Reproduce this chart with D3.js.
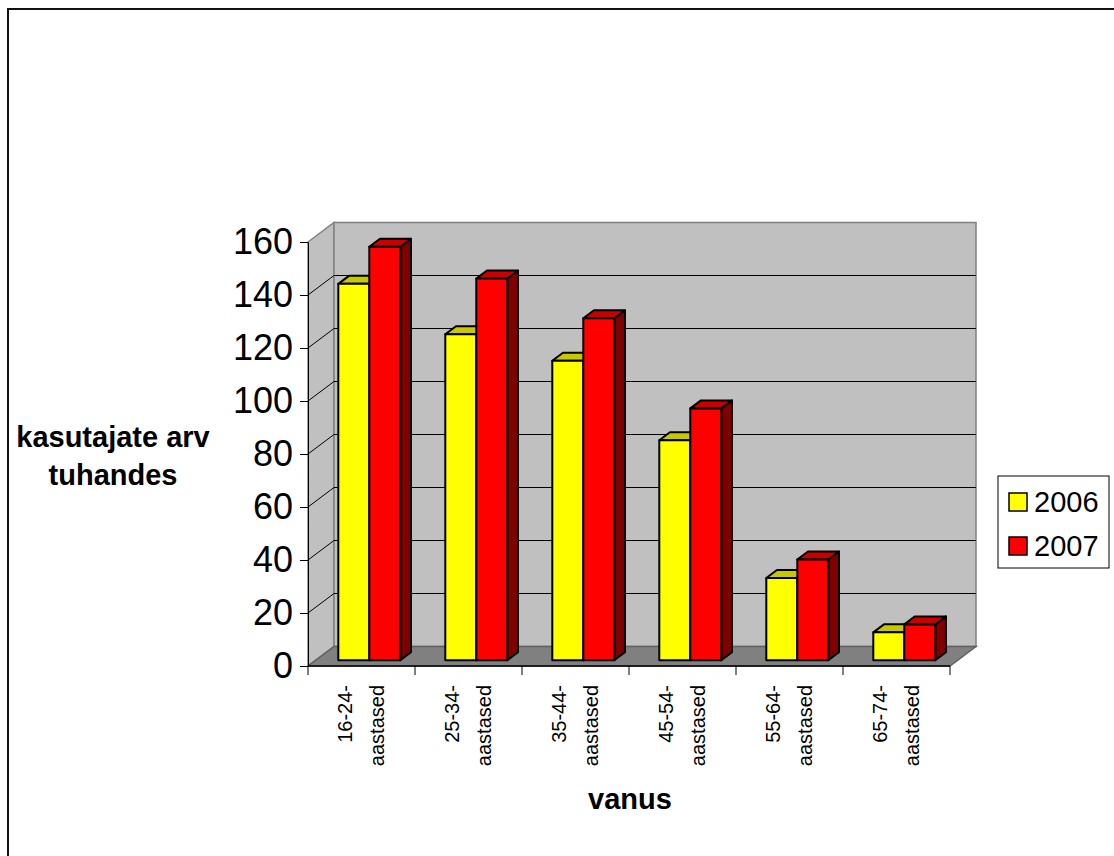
<!DOCTYPE html>
<html>
<head>
<meta charset="utf-8">
<script src="https://cdn.jsdelivr.net/npm/d3@7"></script>
<style>
  html, body { margin: 0; padding: 0; background: #fff; }
  svg { display: block; font-family: "Liberation Sans", Arial, sans-serif; }
</style>
</head>
<body>
<svg id="chart" width="1114" height="856"></svg>
<script>
// Internet users by age group, thousands
const categories = ["16-24-aastased", "25-34-aastased", "35-44-aastased", "45-54-aastased", "55-64-aastased", "65-74-aastased"];
const categoryLines = [["16-24-", "aastased"], ["25-34-", "aastased"], ["35-44-", "aastased"], ["45-54-", "aastased"], ["55-64-", "aastased"], ["65-74-", "aastased"]];
const seriesNames = ["2006", "2007"];
const values2006 = [142, 123, 113, 83, 31, 10.5];
const values2007 = [156, 144, 129, 95, 38, 13.5];
const yTicks = [0, 20, 40, 60, 80, 100, 120, 140, 160];

const series = [
  { name: seriesNames[0], values: values2006, front: "#FFFF00", top: "#C8C800", side: "#808000" },
  { name: seriesNames[1], values: values2007, front: "#FF0000", top: "#C80000", side: "#800000" }
];

const svg = d3.select("#chart");

// outer chart frame
svg.append("rect")
  .attr("x", 8).attr("y", 9).attr("width", 1200).attr("height", 1000)
  .attr("fill", "none").attr("stroke", "#111").attr("stroke-width", 2);

// front plane scales and depth offset for the 3-D box
const y = d3.scaleLinear().domain([0, 160]).range([666, 242]);
const x = d3.scaleBand().domain(categories).range([308, 950]);
const depth = { dx: 26, dy: -19.5 };
const barFront = 0.3, barBack = 0.71;
const barW = 31;

const x0 = x.range()[0], x1 = x.range()[1];
const yTop = y(160), yBot = y(0);
const pts = a => a.map(p => p.join(",")).join(" ");

// left wall
svg.append("polygon")
  .attr("points", pts([[x0, yTop], [x0 + depth.dx, yTop + depth.dy], [x0 + depth.dx, yBot + depth.dy], [x0, yBot]]))
  .attr("fill", "#C0C0C0").attr("stroke", "#808080").attr("stroke-width", 1.5);
// back wall
svg.append("polygon")
  .attr("points", pts([[x0 + depth.dx, yTop + depth.dy], [x1 + depth.dx, yTop + depth.dy], [x1 + depth.dx, yBot + depth.dy], [x0 + depth.dx, yBot + depth.dy]]))
  .attr("fill", "#C0C0C0").attr("stroke", "#808080").attr("stroke-width", 1.5);
// floor
svg.append("polygon")
  .attr("points", pts([[x0, yBot], [x1, yBot], [x1 + depth.dx, yBot + depth.dy], [x0 + depth.dx, yBot + depth.dy]]))
  .attr("fill", "#808080").attr("stroke", "#606060").attr("stroke-width", 1.5);

// gridlines on the walls
const grid = yTicks.filter(v => v > 0 && v < 160);
svg.append("g").selectAll("path").data(grid).join("path")
  .attr("d", v => `M${x0},${y(v)} L${x0 + depth.dx},${y(v) + depth.dy} L${x1 + depth.dx},${y(v) + depth.dy}`)
  .attr("fill", "none").attr("stroke", "#000").attr("stroke-width", 1);

// bars
const pair = barW * series.length;
const fx = depth.dx * barFront, fy = depth.dy * barFront;
const bdx = depth.dx * (barBack - barFront), bdy = depth.dy * (barBack - barFront);

categories.forEach((c, i) => {
  const cx = x(c) + x.bandwidth() / 2 + fx;
  series.forEach((s, k) => {
    const left = cx - pair / 2 + k * barW, right = left + barW;
    const top = y(s.values[i]) + fy, bottom = y(0) + fy;
    const g = svg.append("g").attr("stroke", "#000").attr("stroke-width", 2).attr("stroke-linejoin", "round");
    g.append("polygon")
      .attr("points", pts([[right, top], [right + bdx, top + bdy], [right + bdx, bottom + bdy], [right, bottom]]))
      .attr("fill", s.side);
    g.append("polygon")
      .attr("points", pts([[left, top], [left + bdx, top + bdy], [right + bdx, top + bdy], [right, top]]))
      .attr("fill", s.top);
    g.append("rect")
      .attr("x", left).attr("y", top).attr("width", barW).attr("height", bottom - top)
      .attr("fill", s.front);
  });
});

// value axis
const yAxis = svg.append("g")
  .attr("transform", `translate(${x0},0)`)
  .call(d3.axisLeft(y).tickValues(yTicks).tickSize(8).tickSizeOuter(0).tickPadding(7));
yAxis.select(".domain").attr("stroke", "#000").attr("stroke-width", 1);
yAxis.selectAll(".tick line").attr("stroke", "#000").attr("stroke-width", 1);
yAxis.selectAll(".tick text")
  .attr("font-family", "'Liberation Sans', Arial, sans-serif")
  .attr("font-size", 36).attr("fill", "#000");

// category axis: front edge with boundary ticks
svg.append("line").attr("x1", x0).attr("x2", x1).attr("y1", yBot).attr("y2", yBot)
  .attr("stroke", "#000").attr("stroke-width", 1.5);
const bounds = categories.map(c => x(c)).concat([x1]);
svg.append("g").selectAll("line").data(bounds).join("line")
  .attr("x1", d => d).attr("x2", d => d).attr("y1", yBot).attr("y2", yBot + 9)
  .attr("stroke", "#000").attr("stroke-width", 1);

// rotated category labels
categories.forEach((c, i) => {
  const cx = x(c) + x.bandwidth() / 2;
  const t = svg.append("text")
    .attr("transform", `translate(${cx},685) rotate(-90)`)
    .attr("text-anchor", "end").attr("font-size", 20).attr("fill", "#000");
  categoryLines[i].forEach((line, j) => {
    t.append("tspan").attr("x", 0).attr("y", j === 0 ? -9.5 : 22.5).text(line);
  });
});

// axis titles
const yTitle = svg.append("text").attr("text-anchor", "middle")
  .attr("font-size", 29).attr("font-weight", "bold").attr("fill", "#000");
yTitle.append("tspan").attr("x", 113).attr("y", 447).text("kasutajate arv");
yTitle.append("tspan").attr("x", 113).attr("y", 485).text("tuhandes");

svg.append("text").attr("x", 630).attr("y", 809).attr("text-anchor", "middle")
  .attr("font-size", 29).attr("font-weight", "bold").attr("fill", "#000").text("vanus");

// legend
const legend = svg.append("g");
legend.append("rect").attr("x", 998).attr("y", 476).attr("width", 111).attr("height", 92)
  .attr("fill", "#fff").attr("stroke", "#000").attr("stroke-width", 1);
series.forEach((s, k) => {
  const ly = 493 + k * 44;
  legend.append("rect").attr("x", 1009).attr("y", ly).attr("width", 18).attr("height", 18)
    .attr("fill", s.front).attr("stroke", "#000").attr("stroke-width", 1.5);
  legend.append("text").attr("x", 1034).attr("y", ly + 19).attr("font-size", 29).attr("fill", "#000")
    .text(s.name);
});
</script>
</body>
</html>
